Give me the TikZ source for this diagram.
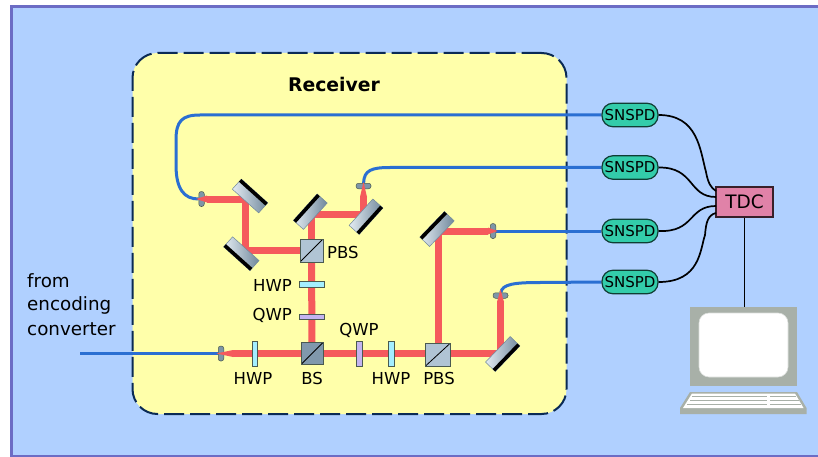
\documentclass[tikz,border=0pt]{standalone}
\usepackage{fontspec}
\setmainfont{DejaVu Sans}
\definecolor{framec}{HTML}{6C6CC4}
\definecolor{bgc}{HTML}{B0D0FF}
\definecolor{recc}{HTML}{FFFFAA}
\definecolor{dashc}{HTML}{0A2A55}
\definecolor{beamc}{HTML}{F55A5C}
\definecolor{fiberc}{HTML}{2A6FD2}
\definecolor{cyanc}{HTML}{A4EEFF}
\definecolor{violc}{HTML}{C4B4F0}
\definecolor{cubec}{HTML}{B0C4D4}
\definecolor{bsc}{HTML}{8098AC}
\definecolor{edgec}{HTML}{4A5A50}
\definecolor{couplc}{HTML}{7E96A8}
\definecolor{mirlight}{HTML}{E4ECF2}
\definecolor{mirdark}{HTML}{70889C}
\definecolor{detc}{HTML}{33CCAA}
\definecolor{tdcc}{HTML}{E082A8}
\definecolor{pcc}{HTML}{A8B0A8}
\pgfdeclarelayer{backl}
\pgfdeclarelayer{beaml}
\pgfsetlayers{backl,beaml,main}
\tikzset{
  beam/.style={draw=beamc,line width=7pt},
  beamtip/.style={fill=beamc,draw=none},
  fibre/.style={draw=fiberc,line width=3pt},
  wire/.style={draw=black,line width=1.7pt},
  lab/.style={font=\fontsize{16.5}{18}\selectfont,inner sep=0pt,text=black},
  biglab/.style={font=\fontsize{18.3}{20}\selectfont,inner sep=0pt,anchor=west},
  plate/.style={draw=edgec,line width=0.8pt,inner sep=0pt,rectangle},
  hplate/.style={plate,minimum width=25pt,minimum height=5.5pt},
  vplate/.style={plate,minimum width=5.5pt,minimum height=25pt},
  cube/.style={rectangle,draw=edgec,line width=1pt,minimum width=23pt,minimum height=23pt,inner sep=0pt,path picture={\draw[black,line width=0.8pt] (path picture bounding box.south west)--(path picture bounding box.north east);}},
  mirrorbody/.style={rectangle,inner sep=0pt,draw=mirdark,line width=0.5pt,minimum width=35.5pt,minimum height=13.5pt,left color=mirlight,right color=mirdark},
  mirrorback/.style={rectangle,inner sep=0pt,fill=black,minimum width=35.5pt,minimum height=3.6pt,anchor=north},
  couplerh/.style={rectangle,rounded corners=2.5pt,fill=couplc,draw=edgec,line width=0.5pt,inner sep=0pt,minimum width=15pt,minimum height=5.5pt},
  couplerv/.style={couplerh,minimum width=5.5pt,minimum height=15pt},
  det/.style={rectangle,rounded corners=11pt,fill=detc,draw=black!70!detc,line width=1.2pt,minimum width=56pt,minimum height=23.5pt,inner sep=0pt,font=\fontsize{15}{16}\selectfont},
}
\newcommand{\mirrorat}[4]{%
  \node[mirrorbody,rotate=#3] (#1) at (#2) {};
  \node[mirrorback,rotate=#3] at (#1.north) {};
  \coordinate (#4) at (#1);}
\begin{document}
\begin{tikzpicture}[x=1pt,y=-1pt]
\useasboundingbox (0,0) rectangle (818,457);
\begin{pgfonlayer}{backl}
\fill[framec] (10,5) rectangle (818,458);
\fill[bgc] (13,8) rectangle (818,455);
\node[rectangle,rounded corners=25pt,draw=dashc,fill=recc,line width=2pt,dash pattern=on 20pt off 6pt,minimum width=434pt,minimum height=361pt,inner sep=0pt] (rec) at (349.5,233.5) {};
\end{pgfonlayer}
\node[font=\fontsize{18.8}{20}\bfseries\selectfont,inner sep=0pt] (rlab) at (334,84) {Receiver};

% detectors and counter
\node[det] (s1) at (630,115) {SNSPD};
\node[det] (s2) at (630,167.5) {SNSPD};
\node[det] (s3) at (630,231) {SNSPD};
\node[det] (s4) at (630,282) {SNSPD};
\node[rectangle,fill=tdcc,draw=black!75!tdcc,line width=1.2pt,minimum width=57pt,minimum height=30pt,inner sep=0pt,font=\fontsize{18.5}{20}\selectfont] (tdc) at (744.5,202) {TDC};

% couplers
\coordinate (src) at (80,353.5);
\node[couplerv] (k0) at (221,353.5) {};
\node[couplerv] (k1) at (201.5,199) {};
\node[couplerh] (k2) at (363.5,186) {};
\node[couplerv] (k3) at (493,231) {};
\node[couplerh] (k4) at (500.5,295.5) {};

% cubes and plates
\node[cube,fill=cubec] (pbs1) at (311.5,250.5) {};
\node[cube,fill=bsc,minimum width=22pt,minimum height=22pt] (bs) at (312,353.5) {};
\node[cube,fill=cubec,minimum width=25pt] (pbs2) at (438,354.5) {};
\node[vplate,fill=cyanc] (h1) at (255,353.5) {};
\node[vplate,fill=violc] (q1) at (359.5,353.5) {};
\node[vplate,fill=cyanc] (h2) at (391.5,353.5) {};
\node[hplate,fill=cyanc] (h3) at (311.5,284.5) {};
\node[hplate,fill=violc] (q2) at (311.5,317) {};

% mirrors
\mirrorat{m1}{250,196}{-42}{mc1}
\mirrorat{m2}{241.3,253.7}{138}{mc2}
\mirrorat{m3}{310.3,211.7}{48}{mc3}
\mirrorat{m4}{366,216.7}{228}{mc4}
\mirrorat{m5}{437,229}{46}{mc5}
\mirrorat{m6}{502.7,354}{226}{mc6}

% beam tips, above the couplers
\fill[beamtip] (207,195.5) -- (196,199) -- (207,202.5) -- cycle;
\fill[beamtip] (360,197) -- (363.5,182) -- (367,197) -- cycle;
\fill[beamtip] (488,227.5) -- (497.5,231) -- (488,234.5) -- cycle;
\fill[beamtip] (497,302) -- (500.5,289.5) -- (504,302) -- cycle;
\fill[beamtip] (233,350) -- (216.5,353.5) -- (233,357) -- cycle;

\begin{pgfonlayer}{beaml}
% fibres
\draw[fibre] (src) -- (k0);
\draw[fibre] (s1.west) -- (200,115) .. controls (182,115) and (176,121) .. (176,140) -- (176,165) .. controls (176,189) and (184,199) .. (k1);
\draw[fibre] (s2.west) -- (390,167.5) .. controls (372,167.5) and (364,170) .. (k2);
\draw[fibre] (s3.west) -- (k3);
\draw[fibre] (s4.west) -- (540,282.5) .. controls (515,282.5) and (502,284) .. (k4);
% beams
\coordinate (j1) at (245,199);
\coordinate (j2) at (245,250.5);
\coordinate (j3) at (311.5,214);
\coordinate (j4) at (363.5,214);
\coordinate (j5) at (438,231);
\coordinate (j6) at (500.5,353.5);
\draw[beam] (207,199) -- (j1) -- (j2) -- (pbs1);
\draw[beam] (pbs1) -- (j3) -- (j4) -- (363.5,197);
\draw[beam] (pbs2) -- (j5) -- (488,231);
\draw[beam] (233,353.5) -- (j6) -- (500.5,302);
\draw[beam] (bs) -- (pbs1);
\end{pgfonlayer}

% labels
\node[lab,anchor=east] (l1) at (292,285) {HWP};
\node[lab,anchor=east] (l2) at (292,315.5) {QWP};
\node[lab,anchor=west] (l3) at (327,252) {PBS};
\node[lab] (l4) at (253,378) {HWP};
\node[lab] (l5) at (312,378) {BS};
\node[lab] (l6) at (359,330) {QWP};
\node[lab] (l7) at (391,378) {HWP};
\node[lab] (l8) at (439,378) {PBS};
\node[biglab] at (27,281) {from};
\node[biglab] at (27,305) {encoding};
\node[biglab] at (27,329) {converter};

% computer
\fill[pcc] (690,307) rectangle (797,386);
\node[rectangle,rounded corners=10pt,fill=white,draw=white!60!pcc,line width=0.6pt,minimum width=89pt,minimum height=64pt,inner sep=0pt] (screen) at (743.5,345) {};
\coordinate (mon) at (744.5,307);
\fill[pcc] (690,392) -- (797,392) -- (806.5,408) -- (806.5,414) -- (680,414) -- (680,408) -- cycle;
\fill[white] (692,393.5) -- (795,393.5) -- (803.5,408) -- (683,408) -- cycle;
\foreach \yy/\xa/\xb in {395.5/692/796,399.5/689.5/798.5,403.5/687/801}{
  \fill[pcc] (\xa,\yy) rectangle (767,\yy+1.8);
  \fill[pcc] (770,\yy) rectangle (\xb,\yy+1.8);
}

% wires
\draw[wire] (s1.east) .. controls (698,115) and (700,150) .. (706,172) .. controls (708,183) and (711,188) .. (716,191);
\draw[wire] (s2.east) .. controls (695,167) and (688,197) .. (716,197);
\draw[wire] (s3.east) .. controls (695,232.5) and (688,206) .. (716,206);
\draw[wire] (s4.east) .. controls (700,282) and (700,250) .. (705,235) .. controls (706,222) and (708,215) .. (716,213);
\draw[wire] (tdc.south) -- (mon);
\end{tikzpicture}
\end{document}
